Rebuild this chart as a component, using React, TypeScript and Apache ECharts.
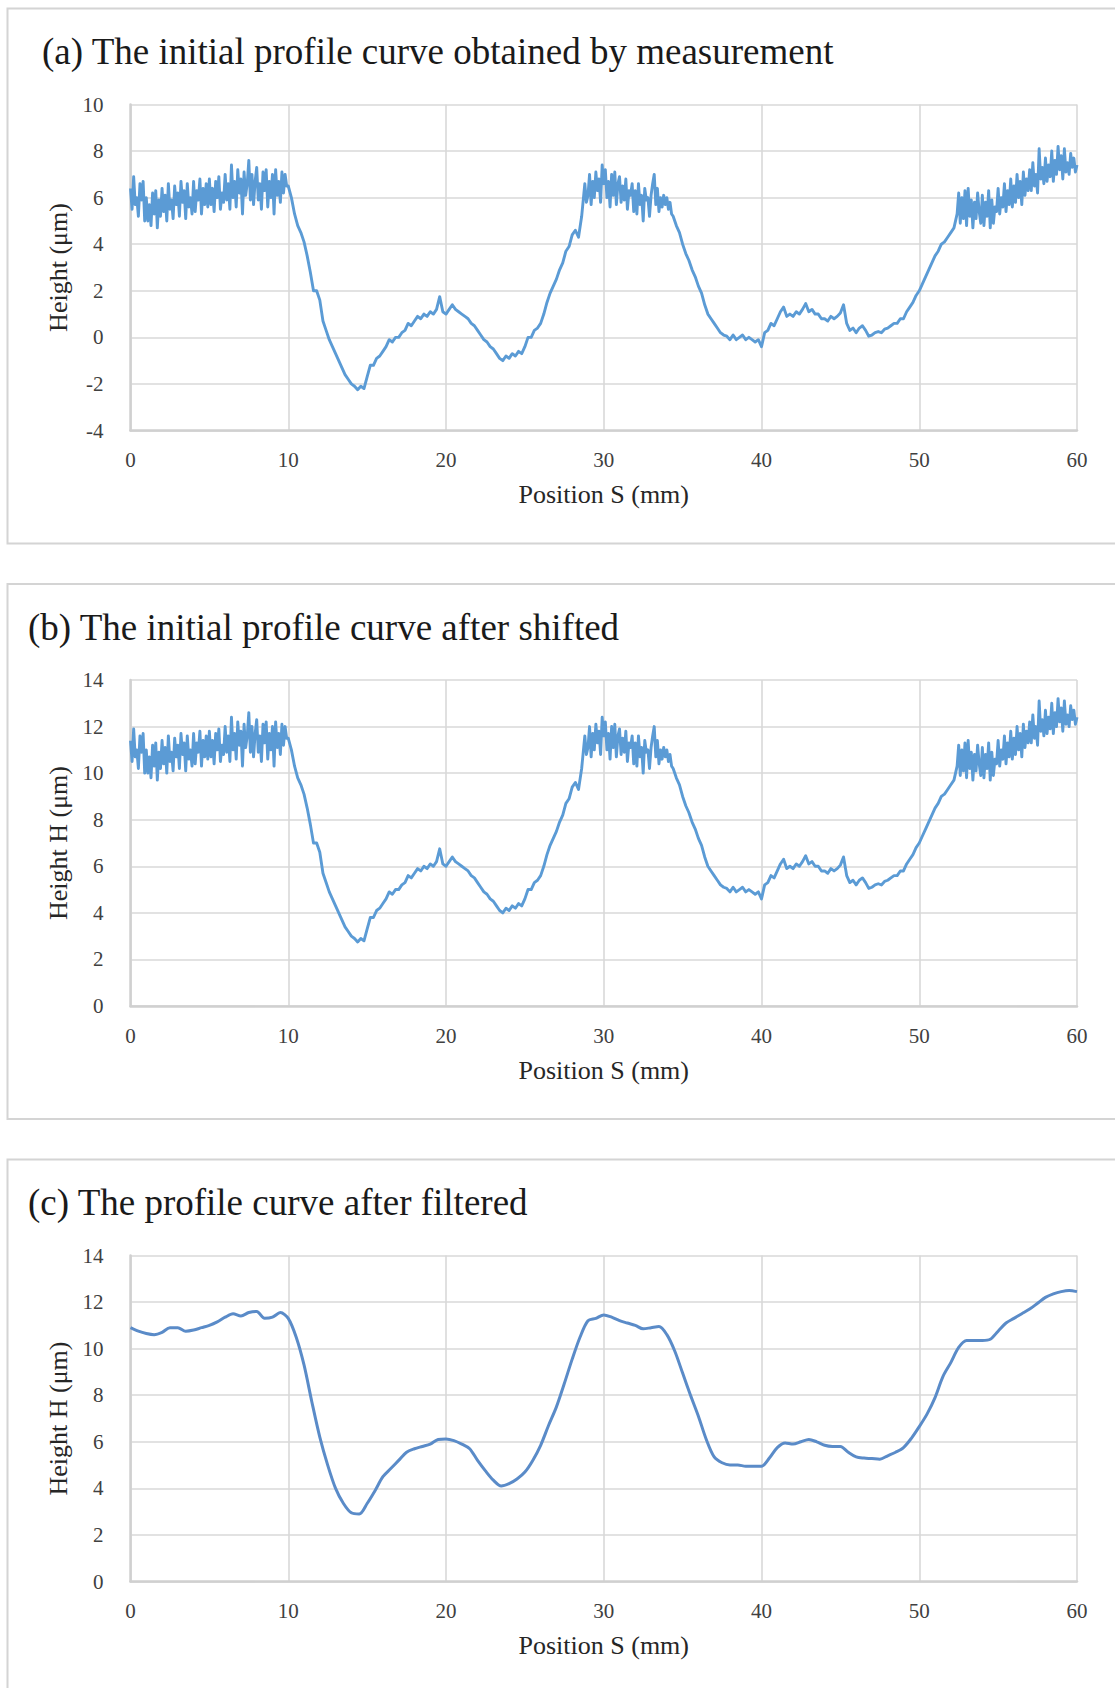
import React, { useEffect, useRef } from "react";
import * as echarts from "echarts";

// ---------- data ----------
const PANEL_TITLES = [
  "(a) The initial profile curve obtained by measurement",
  "(b) The initial profile curve after shifted",
  "(c) The profile curve after filtered",
];
const X_AXIS_NAME = "Position S (mm)";
const Y_AXIS_NAMES = ["Height (μm)", "Height H (μm)", "Height H (μm)"];
const X_RANGE = [0, 60];
const X_INTERVAL = 10;
const Y_RANGES = [
  [-4, 10],
  [0, 14],
  [0, 14],
];
const Y_INTERVAL = 2;

// Each profile is stored as segments: [start position (mm), sampling step (mm)] + heights (µm)
// (a) measured profile
const A_NOISY_0_START = [0, 0.1]; // 0.0 – 9.9 mm
const A_NOISY_0 = [
  6.4, 5.5, 6.9, 5.7, 6.0, 5.2, 6.6, 5.9, 6.7, 5.0,
  6.0, 5.0, 5.7, 4.8, 6.2, 5.3, 6.3, 4.7, 5.9, 5.2,
  6.4, 5.4, 6.1, 5.0, 6.6, 5.5, 5.9, 5.1, 6.5, 5.7,
  6.2, 5.2, 6.7, 5.8, 6.3, 5.1, 6.6, 5.6, 6.0, 5.3,
  6.7, 5.4, 6.3, 5.9, 6.8, 5.3, 6.4, 5.7, 6.6, 5.6,
  6.8, 5.7, 6.4, 5.4, 6.7, 6.0, 6.9, 5.5, 6.2, 5.8,
  7.0, 5.9, 6.6, 5.5, 7.4, 6.0, 6.7, 5.6, 7.2, 6.2,
  6.8, 5.3, 7.1, 6.1, 6.6, 7.6, 5.9, 7.0, 5.7, 6.7,
  7.3, 5.9, 6.6, 5.5, 7.1, 6.3, 7.2, 5.6, 6.7, 6.0,
  7.0, 5.3, 7.2, 6.1, 6.7, 5.8, 7.1, 6.2, 7.0, 6.5,
];
const A_SMOOTH_1_START = [10, 0.2]; // 10.0 – 28.6 mm
const A_SMOOTH_1 = [
  6.5, 6.0, 5.3, 4.8, 4.5,
  4.1, 3.5, 2.8, 2.0, 2.0,
  1.6, 0.7, 0.3, -0.1, -0.4,
  -0.7, -1.0, -1.3, -1.6, -1.8,
  -2.0, -2.1, -2.25, -2.1, -2.2,
  -1.7, -1.2, -1.2, -0.9, -0.8,
  -0.6, -0.4, -0.1, -0.2, 0.0,
  0.0, 0.2, 0.3, 0.6, 0.5,
  0.7, 0.9, 0.8, 1.0, 0.9,
  1.1, 1.0, 1.2, 1.75, 1.1,
  1.0, 1.2, 1.4, 1.2, 1.1,
  1.0, 0.9, 0.8, 0.6, 0.5,
  0.3, 0.1, -0.1, -0.2, -0.4,
  -0.5, -0.7, -0.9, -1.0, -0.8,
  -0.9, -0.7, -0.8, -0.6, -0.7,
  -0.4, 0.0, 0.0, 0.3, 0.4,
  0.6, 1.0, 1.5, 1.9, 2.2,
  2.5, 2.9, 3.2, 3.7, 3.9,
  4.4, 4.6, 4.3, 5.2,
];
const A_NOISY_2_START = [28.8, 0.1]; // 28.8 – 34.4 mm
const A_NOISY_2 = [
  6.6, 5.8,
  6.1, 7.0, 5.7, 6.7, 6.0, 7.1, 6.3, 6.8, 5.8, 7.4,
  6.6, 7.2, 6.0, 6.7, 5.6, 7.0, 6.1, 7.1, 5.7, 6.6,
  6.9, 5.8, 6.5, 5.9, 6.8, 5.5, 6.3, 6.1, 6.6, 5.4,
  6.3, 5.3, 6.6, 5.7, 6.1, 5.0, 6.4, 5.9, 6.0, 5.2,
  6.1, 6.6, 7.0, 5.7, 6.4, 5.4, 6.0, 5.6, 6.1, 5.7,
  6.0, 5.5, 5.8, 5.3, 5.2,
];
const A_SMOOTH_3_START = [34.6, 0.2]; // 34.6 – 52.2 mm
const A_SMOOTH_3 = [
  4.8, 4.5,
  4.0, 3.6, 3.3, 2.9, 2.6,
  2.2, 1.9, 1.4, 1.0, 0.8,
  0.6, 0.4, 0.2, 0.1, 0.05,
  -0.1, 0.1, -0.1, 0.0, 0.1,
  -0.1, 0.0, -0.1, -0.2, -0.1,
  -0.4, 0.2, 0.3, 0.6, 0.5,
  0.8, 1.1, 1.3, 0.9, 1.0,
  0.9, 1.1, 1.0, 1.2, 1.45,
  1.1, 1.2, 1.0, 1.0, 0.8,
  0.8, 0.7, 0.9, 0.8, 0.9,
  1.05, 1.4, 0.6, 0.3, 0.4,
  0.2, 0.4, 0.5, 0.3, 0.05,
  0.1, 0.2, 0.25, 0.2, 0.35,
  0.4, 0.5, 0.6, 0.6, 0.8,
  0.8, 1.1, 1.3, 1.5, 1.8,
  2.0, 2.3, 2.6, 2.9, 3.2,
  3.5, 3.7, 4.0, 4.1, 4.3,
  4.5, 4.7,
];
const A_NOISY_4_START = [52.4, 0.1]; // 52.4 – 60.0 mm
const A_NOISY_4 = [
  5.3, 6.2, 4.9, 6.0, 5.1, 6.3,
  4.8, 6.4, 5.2, 5.9, 4.7, 5.8, 5.1, 6.2, 5.4, 4.9,
  6.1, 4.8, 5.8, 5.2, 6.3, 4.7, 5.9, 4.9, 5.6, 5.4,
  6.4, 5.3, 6.0, 5.6, 6.6, 5.4, 6.3, 5.7, 6.8, 5.6,
  6.5, 5.8, 7.0, 6.0, 6.7, 5.7, 7.1, 6.1, 6.8, 6.3,
  7.2, 6.3, 7.5, 6.5, 7.0, 6.2, 8.1, 6.8, 7.3, 6.6,
  7.7, 6.7, 7.4, 6.9, 8.0, 6.7, 7.6, 7.0, 8.2, 7.2,
  7.8, 6.8, 8.1, 7.1, 7.5, 7.0, 7.9, 7.3, 7.7, 7.1,
  7.4,
];

// (b) shifted profile
const B_NOISY_0 = [
  11.4, 10.5, 11.9, 10.7, 11.0, 10.2, 11.6, 10.9, 11.7, 10.0,
  11.0, 10.0, 10.7, 9.8, 11.2, 10.3, 11.3, 9.7, 10.9, 10.2,
  11.4, 10.4, 11.1, 10.0, 11.6, 10.5, 10.9, 10.1, 11.5, 10.7,
  11.2, 10.2, 11.7, 10.8, 11.3, 10.1, 11.6, 10.6, 11.0, 10.3,
  11.7, 10.4, 11.3, 10.9, 11.8, 10.3, 11.4, 10.7, 11.6, 10.6,
  11.8, 10.7, 11.4, 10.4, 11.7, 11.0, 11.9, 10.5, 11.2, 10.8,
  12.0, 10.9, 11.6, 10.5, 12.4, 11.0, 11.7, 10.6, 12.2, 11.2,
  11.8, 10.3, 12.1, 11.1, 11.6, 12.6, 10.9, 12.0, 10.7, 11.7,
  12.3, 10.9, 11.6, 10.5, 12.1, 11.3, 12.2, 10.6, 11.7, 11.0,
  12.0, 10.3, 12.2, 11.1, 11.7, 10.8, 12.1, 11.2, 12.0, 11.5,
];
const B_SMOOTH_1 = [
  11.5, 11.0, 10.3, 9.8, 9.5,
  9.1, 8.5, 7.8, 7.0, 7.0,
  6.6, 5.7, 5.3, 4.9, 4.6,
  4.3, 4.0, 3.7, 3.4, 3.2,
  3.0, 2.9, 2.75, 2.9, 2.8,
  3.3, 3.8, 3.8, 4.1, 4.2,
  4.4, 4.6, 4.9, 4.8, 5.0,
  5.0, 5.2, 5.3, 5.6, 5.5,
  5.7, 5.9, 5.8, 6.0, 5.9,
  6.1, 6.0, 6.2, 6.75, 6.1,
  6.0, 6.2, 6.4, 6.2, 6.1,
  6.0, 5.9, 5.8, 5.6, 5.5,
  5.3, 5.1, 4.9, 4.8, 4.6,
  4.5, 4.3, 4.1, 4.0, 4.2,
  4.1, 4.3, 4.2, 4.4, 4.3,
  4.6, 5.0, 5.0, 5.3, 5.4,
  5.6, 6.0, 6.5, 6.9, 7.2,
  7.5, 7.9, 8.2, 8.7, 8.9,
  9.4, 9.6, 9.3, 10.2,
];
const B_NOISY_2 = [
  11.6, 10.8,
  11.1, 12.0, 10.7, 11.7, 11.0, 12.1, 11.3, 11.8, 10.8, 12.4,
  11.6, 12.2, 11.0, 11.7, 10.6, 12.0, 11.1, 12.1, 10.7, 11.6,
  11.9, 10.8, 11.5, 10.9, 11.8, 10.5, 11.3, 11.1, 11.6, 10.4,
  11.3, 10.3, 11.6, 10.7, 11.1, 10.0, 11.4, 10.9, 11.0, 10.2,
  11.1, 11.6, 12.0, 10.7, 11.4, 10.4, 11.0, 10.6, 11.1, 10.7,
  11.0, 10.5, 10.8, 10.3, 10.2,
];
const B_SMOOTH_3 = [
  9.8, 9.5,
  9.0, 8.6, 8.3, 7.9, 7.6,
  7.2, 6.9, 6.4, 6.0, 5.8,
  5.6, 5.4, 5.2, 5.1, 5.05,
  4.9, 5.1, 4.9, 5.0, 5.1,
  4.9, 5.0, 4.9, 4.8, 4.9,
  4.6, 5.2, 5.3, 5.6, 5.5,
  5.8, 6.1, 6.3, 5.9, 6.0,
  5.9, 6.1, 6.0, 6.2, 6.45,
  6.1, 6.2, 6.0, 6.0, 5.8,
  5.8, 5.7, 5.9, 5.8, 5.9,
  6.05, 6.4, 5.6, 5.3, 5.4,
  5.2, 5.4, 5.5, 5.3, 5.05,
  5.1, 5.2, 5.25, 5.2, 5.35,
  5.4, 5.5, 5.6, 5.6, 5.8,
  5.8, 6.1, 6.3, 6.5, 6.8,
  7.0, 7.3, 7.6, 7.9, 8.2,
  8.5, 8.7, 9.0, 9.1, 9.3,
  9.5, 9.7,
];
const B_NOISY_4 = [
  10.3, 11.2, 9.9, 11.0, 10.1, 11.3,
  9.8, 11.4, 10.2, 10.9, 9.7, 10.8, 10.1, 11.2, 10.4, 9.9,
  11.1, 9.8, 10.8, 10.2, 11.3, 9.7, 10.9, 9.9, 10.6, 10.4,
  11.4, 10.3, 11.0, 10.6, 11.6, 10.4, 11.3, 10.7, 11.8, 10.6,
  11.5, 10.8, 12.0, 11.0, 11.7, 10.7, 12.1, 11.1, 11.8, 11.3,
  12.2, 11.3, 12.5, 11.5, 12.0, 11.2, 13.1, 11.8, 12.3, 11.6,
  12.7, 11.7, 12.4, 11.9, 13.0, 11.7, 12.6, 12.0, 13.2, 12.2,
  12.8, 11.8, 13.1, 12.1, 12.5, 12.0, 12.9, 12.3, 12.7, 12.1,
  12.4,
];

// (c) filtered profile, every 0.5 mm from 0 to 60 mm
const C_FILTERED_START = [0, 0.5];
const C_FILTERED = [
  10.9, 10.75, 10.65, 10.6, 10.7, 10.9, 10.9, 10.75, 10.8, 10.9,
  11.0, 11.15, 11.35, 11.5, 11.4, 11.55, 11.6, 11.3, 11.35, 11.55,
  11.3, 10.5, 9.3, 7.7, 6.2, 5.0, 4.0, 3.35, 2.95, 2.9,
  3.35, 3.9, 4.5, 4.85, 5.2, 5.55, 5.7, 5.8, 5.9, 6.1,
  6.12, 6.05, 5.9, 5.7, 5.2, 4.75, 4.35, 4.1, 4.2, 4.4,
  4.7, 5.2, 5.85, 6.7, 7.5, 8.5, 9.55, 10.5, 11.2, 11.3,
  11.45, 11.35, 11.2, 11.1, 11.0, 10.85, 10.9, 10.95, 10.6, 9.9,
  8.95, 8.0, 7.1, 6.1, 5.35, 5.1, 5.0, 5.0, 4.95, 4.95,
  4.95, 5.3, 5.75, 5.95, 5.9, 6.0, 6.1, 6.0, 5.85, 5.8,
  5.8, 5.55, 5.35, 5.3, 5.28, 5.25, 5.4, 5.55, 5.75, 6.15,
  6.65, 7.2, 7.9, 8.8, 9.4, 10.05, 10.35, 10.35, 10.35, 10.4,
  10.75, 11.1, 11.3, 11.5, 11.7, 11.95, 12.2, 12.35, 12.45, 12.5,
  12.45,
];

// ---------- styles ----------
const SERIF = "'Liberation Serif', 'Times New Roman', serif";
const PANEL_TOP = [8.5, 584, 1159.5];
const PANEL_HEIGHT = 535;
const GRID_LEFT = 130.5;
const GRID_WIDTH = 946.5;
const GRID_TOP_OFFSET = 96;
const GRID_HEIGHT = 326;
const TITLE_X = [42, 28, 28];
const TITLE_Y_OFFSET = 43;
const LINE_COLORS = ["#5B9BD5", "#5B9BD5", "#5A8BC8"];
const LINE_WIDTHS = [2.9, 2.9, 3];

function segment(start: number[], values: number[]) {
  const [x0, step] = start;
  return values.map((v, i) => [Math.round((x0 + i * step) * 100) / 100, v]);
}

export default function App() {
  const ref = useRef<HTMLDivElement>(null);

  useEffect(() => {
    if (!ref.current) return;
    const chart = echarts.init(ref.current, undefined, { renderer: "svg" });

    const measured = [
      ...segment(A_NOISY_0_START, A_NOISY_0),
      ...segment(A_SMOOTH_1_START, A_SMOOTH_1),
      ...segment(A_NOISY_2_START, A_NOISY_2),
      ...segment(A_SMOOTH_3_START, A_SMOOTH_3),
      ...segment(A_NOISY_4_START, A_NOISY_4),
    ];
    const shifted = [
      ...segment(A_NOISY_0_START, B_NOISY_0),
      ...segment(A_SMOOTH_1_START, B_SMOOTH_1),
      ...segment(A_NOISY_2_START, B_NOISY_2),
      ...segment(A_SMOOTH_3_START, B_SMOOTH_3),
      ...segment(A_NOISY_4_START, B_NOISY_4),
    ];
    const filtered = segment(C_FILTERED_START, C_FILTERED);
    const datasets = [measured, shifted, filtered];

    const grids = PANEL_TOP.map((t) => ({
      left: GRID_LEFT,
      top: t + GRID_TOP_OFFSET,
      width: GRID_WIDTH,
      height: GRID_HEIGHT,
      containLabel: false,
    }));

    const xAxes = PANEL_TOP.map((_, i) => ({
      type: "value",
      gridIndex: i,
      min: X_RANGE[0],
      max: X_RANGE[1],
      interval: X_INTERVAL,
      name: X_AXIS_NAME,
      nameLocation: "middle",
      nameGap: 51,
      nameTextStyle: { fontFamily: SERIF, fontSize: 26, color: "#262626" },
      axisLine: { show: true, onZero: false, lineStyle: { color: "#d0d0d0", width: 2.5 } },
      axisTick: { show: false },
      axisLabel: { fontFamily: SERIF, fontSize: 21, color: "#404040", margin: 19 },
      splitLine: { show: true, lineStyle: { color: "#d9d9d9", width: 1.6 } },
    }));

    const yAxes = PANEL_TOP.map((_, i) => ({
      type: "value",
      gridIndex: i,
      min: Y_RANGES[i][0],
      max: Y_RANGES[i][1],
      interval: Y_INTERVAL,
      name: Y_AXIS_NAMES[i],
      nameLocation: "middle",
      nameGap: 58,
      nameTextStyle: { fontFamily: SERIF, fontSize: 26, color: "#262626" },
      axisLine: { show: true, onZero: false, lineStyle: { color: "#d0d0d0", width: 2.5 } },
      axisTick: { show: false },
      axisLabel: { fontFamily: SERIF, fontSize: 21, color: "#404040", margin: 27 },
      splitLine: { show: true, lineStyle: { color: "#d9d9d9", width: 1.6 } },
    }));

    const series = datasets.map((d, i) => ({
      type: "line",
      xAxisIndex: i,
      yAxisIndex: i,
      data: d,
      showSymbol: false,
      symbol: "none",
      smooth: i === 2 ? 0.3 : false,
      lineStyle: { color: LINE_COLORS[i], width: LINE_WIDTHS[i], join: "round" },
      itemStyle: { color: LINE_COLORS[i] },
    }));

    const graphics: any[] = [];
    PANEL_TOP.forEach((t, i) => {
      graphics.push({
        type: "rect",
        shape: { x: 7.5, y: t, width: 1120, height: PANEL_HEIGHT },
        style: { fill: null, stroke: "#d4d4d4", lineWidth: 2 },
        silent: true,
        z: -1,
      });
      graphics.push({
        type: "text",
        x: TITLE_X[i],
        y: t + TITLE_Y_OFFSET,
        style: {
          text: PANEL_TITLES[i],
          fontFamily: SERIF,
          fontSize: 37,
          fill: "#1a1a1a",
          verticalAlign: "middle",
          align: "left",
        },
        silent: true,
      });
    });

    chart.setOption({
      animation: false,
      backgroundColor: "#ffffff",
      grid: grids,
      xAxis: xAxes,
      yAxis: yAxes,
      series,
      graphic: graphics,
    });

    return () => chart.dispose();
  }, []);

  return (
    <div
      ref={ref}
      style={{ position: "absolute", left: 0, top: 0, width: 1115, height: 1688 }}
    />
  );
}
